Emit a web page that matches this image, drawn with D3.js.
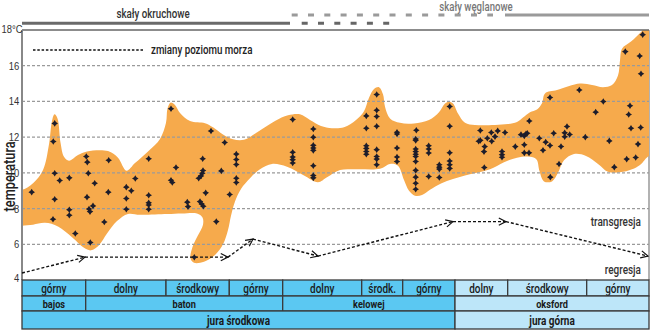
<!DOCTYPE html>
<html><head><meta charset="utf-8">
<script src="https://cdn.jsdelivr.net/npm/d3@7"></script>
<style>
body{margin:0;background:#fff}
svg{display:block;font-family:Roboto,"Noto Sans",sans-serif}
</style></head><body><svg id="c" width="650" height="330"></svg>
<script>
// ---- data ----
const yTicks = [4, 6, 8, 10, 12, 14, 16, 18];
const yTickLabels = ["4", "6", "8", "10", "12", "14", "16", "18°C"];
const gridValues = [6, 8, 10, 12, 14, 16];

const substageBounds = [0, 63.7, 144, 207.3, 260.7, 339.7, 380.7, 433, 485.7, 564.7, 627];
const substageLabels = ["górny", "dolny", "środkowy", "górny", "dolny", "środk.", "górny", "dolny", "środkowy", "górny"];
const stageBounds = [0, 63.7, 260.7, 433, 627];
const stageLabels = ["bajos", "baton", "kelowej", "oksford"];
const epochBounds = [0, 433, 627];
const epochLabels = ["jura środkowa", "jura górna"];

// samples: [time position, temperature °C]
const samples = [
 [9.7,8.92],[32.7,12.77],[31.3,11.76],[32.7,9.98],[37.7,9.57],[47.3,9.72],[32.7,8.52],[31,7.4],
 [47.3,7.93],[47.3,7.63],[53.3,6.6],[64.3,10.92],[65.3,10.6],[66.3,9.98],[72.7,9.42],[65,8.64],
 [71,8.15],[67,7.98],[68,7.83],[68.3,6.1],[82.3,7.25],[86.7,10.71],[86.3,8.92],[104.3,9.2],
 [109.3,9.0],[113.3,9.68],[104.3,8.56],[104.3,7.96],[126.7,10.79],[126.7,8.75],[126.7,8.32],
 [126.7,8.2],[126.7,7.96],
 [149,13.59],[154,10.3],[149,9.59],[150.3,9.46],[165.3,8.36],[166,8.11],[178,8.39],[179.7,8.26],
 [181.3,8.13],[180.7,10.79],[181,10.13],[180.3,9.98],[179,9.83],[176.7,9.7],[183.7,8.88],
 [189,12.34],[194.3,7.27],[199.3,10.11],[202.7,11.7],[207.7,8.79],[214.3,11.05],[214.3,10.75],
 [214.3,10.47],[214.3,9.7],[214.3,9.46],[172.3,5.27],
 [270.7,12.99],[270.7,11.15],[270.7,10.89],[270.7,10.74],[270.7,10.55],
 [291.3,12.46],[291.3,11.99],[291.3,11.54],[291.3,11.39],[291.3,11.26],[291.3,10.4],[291.3,9.85],[291.3,9.72],
 [354.7,14.39],[354.7,13.51],[354.7,13.16],[354.7,12.61],[354.7,11.3],[354.7,10.92],[354.7,10.77],[354.7,10.45],
 [344.3,13.19],[344.3,12.5],[344.3,11.52],[344.3,11.37],[344.3,11.2],[344.3,11.04],
 [375,12.27],[375,12.18],[375,11.39],[375,10.89],[375,10.64],
 [394.3,12.39],[393.7,11.9],[393.7,11.82],[393.7,11.34],[393.7,11.19],[393.7,11.04],[393.7,10.92],
 [393.7,10.64],[393.7,10.14],[393.7,9.76],[393.7,9.42],[393.7,9.08],
 [406.7,11.52],[406.7,11.34],[406.7,11.11],[406.7,9.8],
 [417.3,10.45],[417.3,10.32],[417.3,10.21],[417.3,9.74],
 [427.7,13.72],[427.7,12.61],[427.7,11.13],[427.7,10.66],[427.7,10.45],[427.7,10.25],
 [458.3,12.37],[458.3,11.82],[456.7,11.77],[465.3,11.94],[469.3,12.26],[469.7,11.77],[473,12.03],
 [475.7,12.35],[483,12.26],[462.7,11.47],[462,11.19],[462.3,10.3],[480,11.2],[480,11.02],[480,10.87],
 [493.3,11.47],[499,12.14],[502.3,12.07],[504,12.19],[505.3,12.22],[502.3,11.57],[502.3,11.12],
 [507,11.12],[507.3,12.9],[517.3,11.94],[521,11.27],[523.7,11.72],[528,11.53],[528.3,9.76],
 [528,14.22],[531.7,12.22],[537,10.5],[539,11.48],[542.7,12.24],[542.7,12.02],[545,12.6],
 [547.7,12.15],[557.3,14.64],[563.3,12.0],[573.7,13.4],[581.3,14.0],[587.3,11.79],[592.3,10.32],
 [603.3,16.79],[604.7,10.77],[606.7,13.27],[608,13.76],[609,12.5],[613.7,10.86],[616,11.61],
 [617.7,16.54],[619,15.55],[618.7,12.54],[620.7,17.74]
];

// envelope of the temperature range: [time position, temperature °C]
const envelope = [
 [-6,9.1],[0,9.05],[11,9.42],[21,10.16],[27,11.6],[30,12.9],[32.5,13.28],[35.5,13.05],[38.5,11.7],
 [42,10.9],[47,10.68],[56,11.0],[65,11.2],[86,11.22],[96,10.85],[104.5,10.12],[113,10.55],
 [126,11.2],[138,11.9],[144,12.8],[145.5,13.6],[148.5,13.93],[153,13.8],[158,13.35],[168,12.9],
 [183,12.78],[191,12.55],[201,12.15],[211,11.88],[222,11.85],[236,12.3],[253,12.9],[266,13.22],
 [278,13.28],[288,12.96],[299,12.62],[310,12.5],[322,12.55],[334,12.96],[342,13.45],[347,14.2],
 [352,14.7],[357,14.8],[361,14.4],[363,13.7],[368,13.05],[378,12.8],[392,12.77],[407,12.96],
 [417,13.4],[423,13.89],[427,13.98],[431,13.89],[436,13.33],[443,12.81],[453,12.68],[473,12.68],
 [486,12.73],[495,12.85],[501,13.1],[508,13.4],[515,13.55],[520,13.9],[523,14.45],[535,14.64],
 [558,15.0],[570,14.92],[581,14.8],[590,14.92],[596,15.45],[598,16.3],[600,16.95],[609,17.35],
 [620,17.95],[630,18.6],[634,18.6],[634,10.95],
 [627,10.95],[618,10.44],[610,10.2],[598,10.03],[586,10.06],[576,10.5],[564,10.95],[552,11.05],
 [542,10.7],[536,10.0],[530,9.52],[522,9.52],[517.5,10.1],[514.5,10.75],[508,10.9],[495,10.85],
 [482,10.6],[468,10.2],[455,10.0],[443,9.85],[431,9.65],[419,9.4],[408,9.05],[400,8.76],
 [393,8.72],[387,9.0],[382,9.6],[376,10.4],[368,10.5],[358,10.23],[335,10.2],[318,10.16],
 [305,9.75],[296,9.47],[282,9.85],[265,10.34],[250,10.5],[238,10.2],[228,9.7],[219,9.1],
 [213,8.4],[209,7.6],[206,6.8],[201,6.0],[193,5.4],[182,5.02],[172,4.96],[168.5,5.2],
 [170.5,5.85],[176,6.5],[181,7.1],[180.5,7.5],[175,7.72],[160,7.72],[145,7.69],[118,7.65],
 [106,7.7],[95,7.3],[85,6.6],[77,5.95],[69,5.66],[62,5.8],[50,6.4],[36,7.0],[23,7.2],[11,7.1],
 [0,7.04],[-6,7.0]
];

// sea level changes: vertices [time position, level on temperature scale]
const seaLevel = [[0,4.39],[63,5.28],[206,5.28],[231,6.29],[296,5.34],[431,7.27],[484,7.27],[626,5.34]];

// lithology bars: [start, end]
const clasticSolid = [0, 268];
const clasticDashed = [279.7, 368.7];
const carbonateDashed = [269.7, 471];
const carbonateSolid = [483, 627];

// ---- drawing ----
const SX = 0.8; // horizontal condensing of text
const svg = d3.select("#c");
const defs = svg.append("defs");
const x = d3.scaleLinear().domain([0, 627]).range([22, 649]);
const y = d3.scaleLinear().domain([4, 18]).range([280, 30]);

function ctext(px, py, str, o = {}) {
  return svg.append("text")
    .attr("transform", `translate(${px},${py})${o.rotate ? ` rotate(${o.rotate})` : ""} scale(${o.sx || SX},1)`)
    .attr("text-anchor", o.anchor || "start").attr("dy", o.dy !== undefined ? o.dy : "0.35em")
    .attr("font-size", o.fs || 12).attr("font-weight", o.fw || 500)
    .attr("fill", o.fill || "#222").text(str);
}

defs.append("clipPath").attr("id", "plot")
  .append("rect").attr("x", x(0)).attr("y", y(18)).attr("width", x(627) - x(0)).attr("height", y(4) - y(18));

// right border
svg.append("line").attr("x1", x(627)).attr("x2", x(627)).attr("y1", y(18)).attr("y2", y(4))
  .attr("stroke", "#999").attr("stroke-width", 1.5);

// envelope
svg.append("path")
  .attr("clip-path", "url(#plot)")
  .attr("d", d3.line().x(d => x(d[0])).y(d => y(d[1])).curve(d3.curveCatmullRomClosed.alpha(0.5))(envelope))
  .attr("fill", "#f6aa4c");

// grid
svg.append("g").selectAll("line").data(gridValues).join("line")
  .attr("x1", x(0)).attr("x2", x(627)).attr("y1", d => y(d)).attr("y2", d => y(d))
  .attr("stroke", "#9a9a9a").attr("stroke-width", 1.2).attr("stroke-dasharray", "3,2");

// top border & left axis line
svg.append("line").attr("x1", x(0)).attr("x2", x(627)).attr("y1", y(18)).attr("y2", y(18))
  .attr("stroke", "#666").attr("stroke-width", 1.5);
svg.append("line").attr("x1", x(0)).attr("x2", x(0)).attr("y1", y(18)).attr("y2", y(4))
  .attr("stroke", "#888").attr("stroke-width", 2);

// y axis labels
const TSX = 0.86;
const ax = svg.append("g").attr("transform", `translate(${x(0) - 1},0)`)
  .call(d3.axisLeft(y).tickValues(yTicks).tickFormat((d, i) => yTickLabels[i]).tickSize(0).tickPadding(2));
ax.select(".domain").remove();
ax.selectAll("text").attr("font-size", 11).attr("font-weight", 500).attr("fill", "#333")
  .style("font-family", "inherit").attr("transform", `scale(${TSX},1)`);
ax.selectAll(".tick").filter(d => d === 4).select("text").attr("dy", "0.15em");
ax.selectAll(".tick").filter(d => d === 18).select("text").attr("dy", "0.2em")
  .attr("text-anchor", "start").attr("x", -19.5 / TSX);

ctext(15, y(9.8), "temperatura", {rotate: -90, anchor: "middle", fs: 16, dy: 0, fill: "#222"});

// sea level arrows
defs.append("marker").attr("id", "arr").attr("viewBox", "0 0 10 10").attr("refX", 9).attr("refY", 5)
  .attr("markerWidth", 9).attr("markerHeight", 9).attr("markerUnits", "userSpaceOnUse").attr("orient", "auto")
  .append("path").attr("d", "M1,1 L9,5 L1,9").attr("fill", "none").attr("stroke", "#111").attr("stroke-width", 1.3);
svg.append("g").selectAll("line").data(d3.pairs(seaLevel)).join("line")
  .attr("x1", d => x(d[0][0])).attr("y1", d => y(d[0][1]))
  .attr("x2", d => x(d[1][0])).attr("y2", d => y(d[1][1]))
  .attr("stroke", "#111").attr("stroke-width", 1.4).attr("stroke-dasharray", "3,2")
  .attr("marker-end", "url(#arr)");

// samples
const star4 = {
  draw(ctx, size) {
    const R = Math.sqrt(size) * 0.6, r = R * 0.55;
    for (let i = 0; i < 8; i++) {
      const a = i * Math.PI / 4 - Math.PI / 2, rr = i % 2 ? r : R;
      if (i === 0) ctx.moveTo(rr * Math.cos(a), rr * Math.sin(a));
      else ctx.lineTo(rr * Math.cos(a), rr * Math.sin(a));
    }
    ctx.closePath();
  }
};
svg.append("g").selectAll("path").data(samples).join("path")
  .attr("transform", d => `translate(${x(d[0])},${y(d[1])})`)
  .attr("d", d3.symbol().type(star4).size(30))
  .attr("fill", "#1d1d2b");

// legend
svg.append("line").attr("x1", 33).attr("x2", 143).attr("y1", 50).attr("y2", 50)
  .attr("stroke", "#111").attr("stroke-width", 1.4).attr("stroke-dasharray", "2.5,1.8");
ctext(151, 50, "zmiany poziomu morza", {fs: 12.5, sx: 0.78});

ctext(641, y(7.27), "transgresja", {anchor: "end", fs: 12.5, fill: "#333"});
ctext(641, y(4.6), "regresja", {anchor: "end", fs: 12.5, fill: "#333"});

// lithology header
const bar = (seg, yy, col, dash) => {
  const l = svg.append("line").attr("x1", x(seg[0])).attr("x2", x(seg[1])).attr("y1", yy).attr("y2", yy)
    .attr("stroke", col).attr("stroke-width", 3);
  if (dash) l.attr("stroke-dasharray", dash);
};
bar(clasticSolid, 23.3, "#6a6a6a");
bar(clasticDashed, 23.3, "#666", "6,10.3");
bar(carbonateDashed, 15, "#9a9a9a", "6,10.3");
bar(carbonateSolid, 15, "#9a9a9a");
ctext(x(131), 17.5, "skały okruchowe", {anchor: "middle", fs: 12.5, sx: 0.78, dy: 0, fill: "#333"});
ctext(x(454), 10.8, "skały węglanowe", {anchor: "middle", fs: 12, sx: 0.8, dy: 0, fill: "#777"});

// stratigraphic table
const dark = "#5bc8f2", light = "#bde6f9", split = 433;
const rows = [
  {b: substageBounds, labels: substageLabels, y0: 280, y1: 296, bold: false, fs: 12.5},
  {b: stageBounds, labels: stageLabels, y0: 296, y1: 311, bold: true, fs: 11.5},
  {b: epochBounds, labels: epochLabels, y0: 311, y1: 329, bold: true, fs: 12.5}
];
rows.forEach(r => {
  const cells = r.labels.map((l, i) => ({l, a: r.b[i], e: r.b[i + 1]}));
  const g = svg.append("g");
  g.selectAll("rect").data(cells).join("rect")
    .attr("x", d => x(d.a)).attr("width", d => x(d.e) - x(d.a))
    .attr("y", r.y0).attr("height", r.y1 - r.y0)
    .attr("fill", d => d.a >= split ? light : dark)
    .attr("stroke", "#3a3a3a").attr("stroke-width", 1.3);
  g.selectAll("text").data(cells).join("text")
    .attr("transform", d => `translate(${(x(d.a) + x(d.e)) / 2},${(r.y0 + r.y1) / 2}) scale(${SX},1)`)
    .attr("dy", "0.36em")
    .attr("text-anchor", "middle").attr("font-size", r.fs)
    .attr("font-weight", r.bold ? "bold" : 500).attr("fill", "#1a1a1a")
    .text(d => d.l);
});
</script></body></html>
